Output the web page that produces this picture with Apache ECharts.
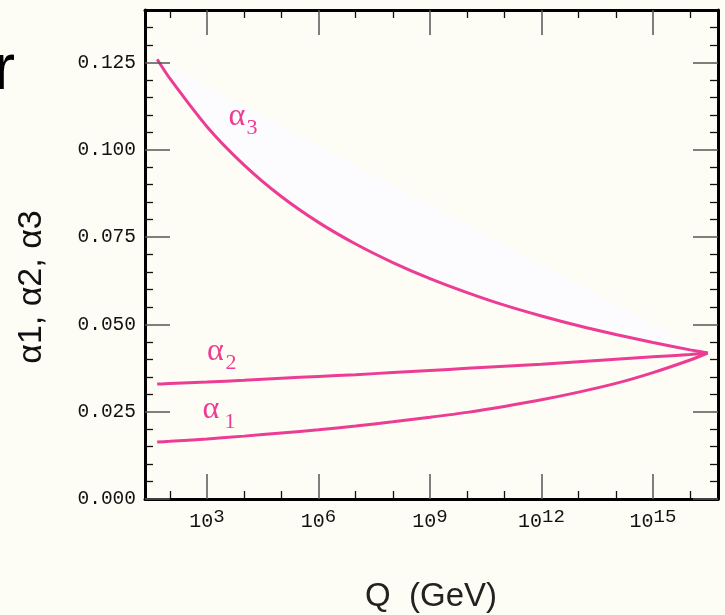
<!DOCTYPE html>
<html>
<head>
<meta charset="utf-8">
<script src="https://cdn.jsdelivr.net/npm/echarts@6/dist/echarts.min.js"></script>
<style>
html,body{margin:0;padding:0;background:#fdfdf5;}
#c{width:725px;height:615px;}
</style>
</head>
<body>
<div id="c"></div>
<script>
// x = log10(Q / GeV)
const logQ   = [1.66, 2, 3, 4, 5, 6, 7, 8, 9, 10, 11, 12, 13, 14, 15, 16, 16.47];
const alpha1 = [0.0163,0.0165,0.0172,0.0180,0.0189,0.0198,0.0209,0.0221,0.0234,0.0248,0.0265,0.0284,0.0306,0.0331,0.0362,0.0398,0.0418];
const alpha2 = [0.0329,0.0331,0.0335,0.0340,0.0346,0.0351,0.0356,0.0362,0.0368,0.0374,0.0380,0.0386,0.0393,0.0400,0.0407,0.0414,0.0418];
const alpha3 = [0.1259,0.1204,0.1066,0.0956,0.0866,0.0792,0.0730,0.0677,0.0631,0.0591,0.0555,0.0524,0.0496,0.0471,0.0448,0.0427,0.0418];
// straight upper edge of the shaded band
const bandLogQ = [1.66, 16.47];
const bandTop  = [0.1259, 0.0418];

const xMajorExp = [3, 6, 9, 12, 15];
const xMinorExp = [2,4,5,7,8,10,11,13,14,16];
const yMajor = [0, 0.025, 0.05, 0.075, 0.1, 0.125];
const yMinor = [0.005,0.01,0.015,0.02,0.03,0.035,0.04,0.045,0.055,0.06,0.065,0.07,0.08,0.085,0.09,0.095,0.105,0.11,0.115,0.12,0.13,0.135];

const PINK = '#ec3c94';
const BG = '#fdfdf5';
const X_MIN = 1.332, X_MAX = 16.749, Y_MIN = 0, Y_MAX = 0.14;

const zip = (xs, ys) => xs.map((x, i) => [x, ys[i]]);

function xAxisDef(pos, major, withLabels, showLine) {
  return {
    type: 'value', position: pos, min: X_MIN, max: X_MAX, z: 5,
    axisLine: { show: showLine, onZero: false, lineStyle: { color: '#000', width: 3 } },
    axisTick: { show: true, inside: true, length: major ? 25 : 8,
      customValues: major ? xMajorExp : xMinorExp,
      lineStyle: { color: major ? '#555' : '#111', width: major ? 1.5 : 1.3 } },
    axisLabel: withLabels ? {
      show: true, customValues: xMajorExp, margin: 8,
      formatter: v => '{b|10}{s|' + v + '}',
      rich: {
        b: { fontFamily: 'Liberation Mono', fontSize: 20, color: '#111' },
        s: { fontFamily: 'Liberation Mono', fontSize: 19, color: '#111', padding: [0, 0, 10, 0] }
      }
    } : { show: false },
    splitLine: { show: false }
  };
}
function yAxisDef(pos, major, withLabels, showLine) {
  return {
    type: 'value', position: pos, min: Y_MIN, max: Y_MAX, z: 5,
    axisLine: { show: showLine, onZero: false, lineStyle: { color: '#000', width: 3 } },
    axisTick: { show: true, inside: true, length: major ? 25 : 8,
      customValues: major ? yMajor : yMinor,
      lineStyle: { color: major ? '#555' : '#111', width: major ? 1.5 : 1.3 } },
    axisLabel: withLabels ? {
      show: true, customValues: yMajor, margin: 9,
      fontFamily: 'Liberation Mono', fontSize: 19.5, color: '#111',
      formatter: v => v.toFixed(3)
    } : { show: false },
    splitLine: { show: false }
  };
}

const chart = echarts.init(document.getElementById('c'), null, { renderer: 'canvas' });
chart.setOption({
  backgroundColor: BG,
  animation: false,
  grid: { left: 145, right: 7, top: 10, bottom: 116, containLabel: false },
  xAxis: [
    xAxisDef('bottom', true, true, true),
    xAxisDef('bottom', false, false, false),
    xAxisDef('top', true, false, true),
    xAxisDef('top', false, false, false)
  ],
  yAxis: [
    yAxisDef('left', true, true, true),
    yAxisDef('left', false, false, false),
    yAxisDef('right', true, false, true),
    yAxisDef('right', false, false, false)
  ],
  series: [
    { type: 'line', name: 'band', data: zip(bandLogQ, bandTop), symbol: 'none',
      lineStyle: { width: 0 }, areaStyle: { color: '#fcfcff', opacity: 1 }, z: 1, silent: true },
    { type: 'line', name: 'alpha3', data: zip(logQ, alpha3), symbol: 'none', smooth: 0.25,
      lineStyle: { color: PINK, width: 3 }, areaStyle: { color: BG, opacity: 1 }, z: 2 },
    { type: 'line', name: 'alpha2', data: zip(logQ, alpha2), symbol: 'none', smooth: 0.25,
      lineStyle: { color: PINK, width: 3 }, z: 3 },
    { type: 'line', name: 'alpha1', data: zip(logQ, alpha1), symbol: 'none', smooth: 0.25,
      lineStyle: { color: PINK, width: 3 }, z: 3 }
  ],
  graphic: { elements: [
    { type: 'text', z: 100, x: 15, y: 71, style: { text: 'r', font: '64px "Liberation Sans"', fill: '#000', align: 'right', verticalAlign: 'middle' } },
    { type: 'text', z: 100, x: 32, y: 287, rotation: Math.PI / 2,
      style: { text: 'α1, α2, α3', font: '34px "Liberation Sans"', fill: '#111', align: 'center', verticalAlign: 'middle' } },
    { type: 'text', z: 100, x: 431, y: 597, style: { text: 'Q  (GeV)', font: '33px "Liberation Sans"', fill: '#222', align: 'center', verticalAlign: 'middle' } },
    { type: 'text', z: 100, x: 237, y: 117, style: { text: 'α', font: '32px "Liberation Serif"', fill: PINK, align: 'center', verticalAlign: 'middle' } },
    { type: 'text', z: 100, x: 252, y: 128, style: { text: '3', font: '22px "Liberation Serif"', fill: PINK, align: 'center', verticalAlign: 'middle' } },
    { type: 'text', z: 100, x: 215.5, y: 351.5, style: { text: 'α', font: '32px "Liberation Serif"', fill: PINK, align: 'center', verticalAlign: 'middle' } },
    { type: 'text', z: 100, x: 231, y: 363.5, style: { text: '2', font: '22px "Liberation Serif"', fill: PINK, align: 'center', verticalAlign: 'middle' } },
    { type: 'text', z: 100, x: 211, y: 410, style: { text: 'α', font: '32px "Liberation Serif"', fill: PINK, align: 'center', verticalAlign: 'middle' } },
    { type: 'text', z: 100, x: 230, y: 422, style: { text: '1', font: '22px "Liberation Serif"', fill: PINK, align: 'center', verticalAlign: 'middle' } }
  ] }
});
</script>
</body>
</html>
